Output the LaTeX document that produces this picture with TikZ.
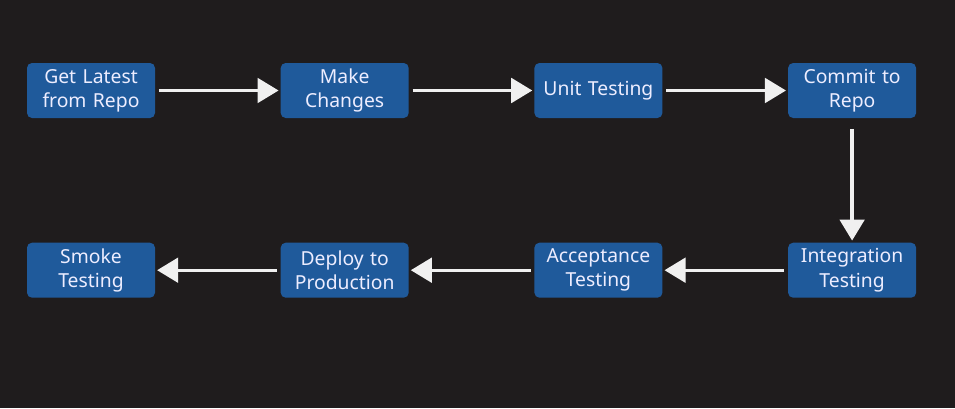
\documentclass[tikz,border=0pt]{standalone}
\usepackage{fontspec}
\setmainfont{Noto Sans}
\usetikzlibrary{positioning}
\usetikzlibrary{arrows.meta}

\definecolor{bgdark}{RGB}{31,28,29}
\definecolor{boxblue}{RGB}{31,90,155}
\definecolor{chalk}{RGB}{240,240,240}

\tikzset{
    stepbox/.style={fill=boxblue, rounded corners=0.1cm, minimum width=2.56cm, minimum height=1.1cm,
        text width=2.5cm, align=center, font=\fontsize{11}{13.8}\selectfont, text=white!93!blue, inner sep=0pt},
    chalkarrow/.style={draw=chalk, line width=1.9pt, -{Triangle[width=14pt, length=12pt]}, shorten <=2pt, shorten >=1pt}
}

\begin{document}
\begin{tikzpicture}
    \fill[bgdark] (0,0) rectangle (19.1,8.16);
    \useasboundingbox (0,0) rectangle (19.1,8.16);

    \node[stepbox] (repo) at (1.82,6.35) {Get Latest\\from Repo};
    \node[stepbox, right=2.5cm of repo] (change) {Make\\Changes};
    \node[stepbox, right=2.5cm of change] (unit) {Unit Testing};
    \node[stepbox, right=2.5cm of unit] (commit) {Commit to\\Repo};

    \node[stepbox, below=2.48cm of commit] (integ) {Integration\\Testing};
    \node[stepbox, left=2.5cm of integ] (accept) {Acceptance\\Testing};
    \node[stepbox, left=2.5cm of accept] (deploy) {Deploy to\\Production};
    \node[stepbox, left=2.5cm of deploy] (smoke) {Smoke\\Testing};

    \draw[chalkarrow] (repo) -- (change);
    \draw[chalkarrow] (change) -- (unit);
    \draw[chalkarrow] (unit) -- (commit);
    \draw[chalkarrow, shorten <=6pt] (commit) -- (integ);
    \draw[chalkarrow] (integ) -- (accept);
    \draw[chalkarrow] (accept) -- (deploy);
    \draw[chalkarrow] (deploy) -- (smoke);

\end{tikzpicture}
\end{document}
